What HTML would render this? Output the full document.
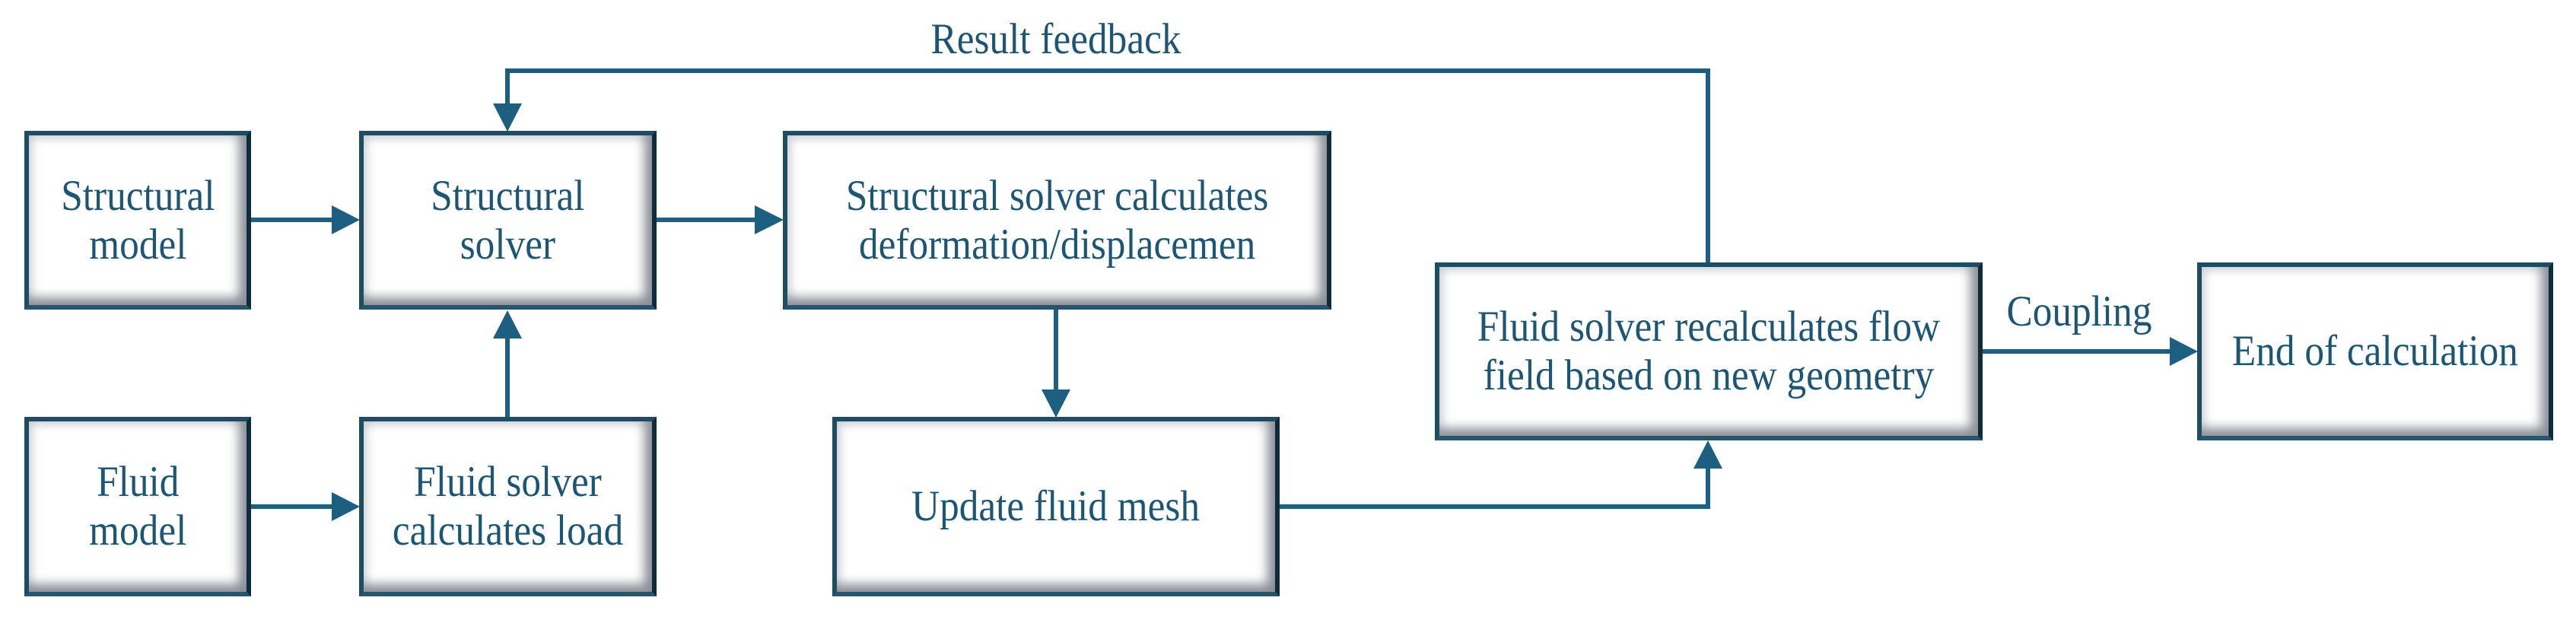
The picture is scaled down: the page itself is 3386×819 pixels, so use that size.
<!DOCTYPE html>
<html><head><meta charset="utf-8"><style>
html,body{margin:0;padding:0;background:#fff;}
body{width:3386px;height:819px;position:relative;overflow:hidden;font-family:"Liberation Serif","Times New Roman",Times,"DejaVu Serif",serif;}
.b{position:absolute;box-sizing:border-box;border:6px solid #1d4d63;border-right-color:#0f2c3a;border-bottom-color:#24566e;background:#fff;
box-shadow:inset -16px -16px 14px -6px #8a8f96, inset 10px 10px 12px -6px #c9ccd0;display:flex;align-items:center;justify-content:center;text-align:center;}
.t{font-family:"Liberation Serif","Times New Roman",Times,serif;color:#1c5673;font-size:57px;line-height:64px;display:inline-block;transform:scaleX(0.9);white-space:nowrap;}
.l{font-family:"Liberation Serif","Times New Roman",Times,serif;position:absolute;color:#1c5673;font-size:57px;line-height:64px;white-space:nowrap;transform:translateX(-50%) scaleX(0.9);}
svg{position:absolute;left:0;top:0;}
</style></head><body>
<svg width="3386" height="819" viewBox="0 0 3386 819">
<g stroke="#1c5f80" stroke-width="6" fill="none">
<polyline points="2245,345 2245,93 667,93 667,140"/>
<line x1="330" y1="289" x2="440" y2="289"/>
<line x1="863" y1="289" x2="995" y2="289"/>
<line x1="330" y1="666" x2="440" y2="666"/>
<line x1="667" y1="548" x2="667" y2="445"/>
<line x1="1388" y1="407" x2="1388" y2="515"/>
<polyline points="1682,666 2245,666 2245,612"/>
<line x1="2606" y1="462" x2="2855" y2="462"/>
</g>
<g fill="#1c5f80">
<polygon points="648,136 686,136 667,173"/>
<polygon points="436,270 436,308 473,289"/>
<polygon points="992,270 992,308 1030,289"/>
<polygon points="436,647 436,685 473,666"/>
<polygon points="648,445 686,445 667,408"/>
<polygon points="1369,512 1407,512 1388,549"/>
<polygon points="2226,616 2264,616 2245,579"/>
<polygon points="2852,443 2852,481 2889,462"/>
</g>
</svg>
<div class="b" style="left:32px;top:172px;width:298px;height:235px"><span class="t">Structural<br>model</span></div>
<div class="b" style="left:472px;top:172px;width:391px;height:235px"><span class="t">Structural<br>solver</span></div>
<div class="b" style="left:1029px;top:172px;width:721px;height:235px"><span class="t">Structural solver calculates<br>deformation/displacemen</span></div>
<div class="b" style="left:32px;top:548px;width:298px;height:236px"><span class="t">Fluid<br>model</span></div>
<div class="b" style="left:472px;top:548px;width:391px;height:236px"><span class="t">Fluid solver<br>calculates load</span></div>
<div class="b" style="left:1094px;top:548px;width:588px;height:236px"><span class="t">Update fluid mesh</span></div>
<div class="b" style="left:1886px;top:345px;width:720px;height:234px"><span class="t">Fluid solver recalculates flow<br>field based on new geometry</span></div>
<div class="b" style="left:2888px;top:345px;width:468px;height:234px"><span class="t">End of calculation</span></div>
<div class="l" style="left:1388px;top:20px">Result feedback</div>
<div class="l" style="left:2733px;top:378px">Coupling</div>
</body></html>
